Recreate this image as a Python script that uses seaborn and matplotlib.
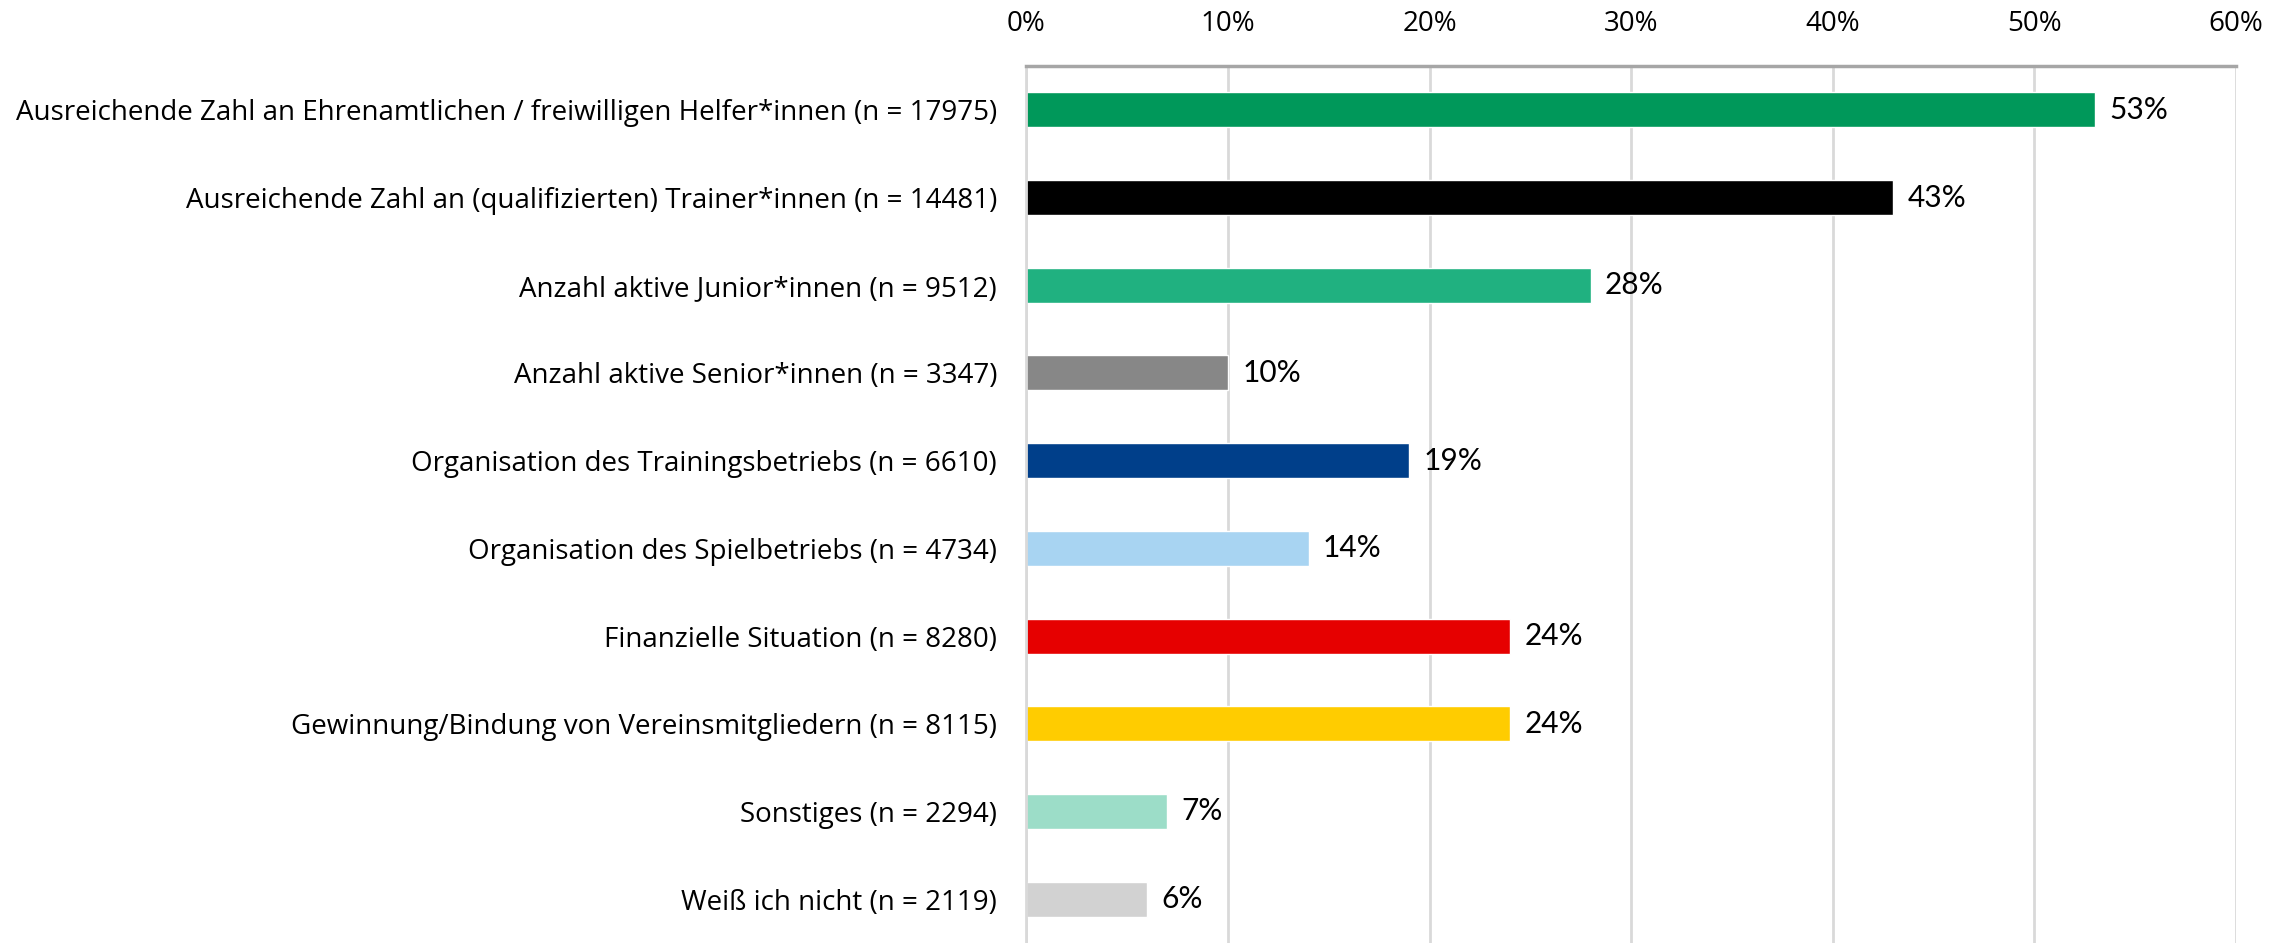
import pandas as pd
import seaborn as sns
import matplotlib.pyplot as plt
from matplotlib.ticker import PercentFormatter

# --- Data ---
categories = [
    "Ausreichende Zahl an Ehrenamtlichen / freiwilligen Helfer*innen (n = 17975)",
    "Ausreichende Zahl an (qualifizierten) Trainer*innen (n = 14481)",
    "Anzahl aktive Junior*innen (n = 9512)",
    "Anzahl aktive Senior*innen (n = 3347)",
    "Organisation des Trainingsbetriebs (n = 6610)",
    "Organisation des Spielbetriebs (n = 4734)",
    "Finanzielle Situation (n = 8280)",
    "Gewinnung/Bindung von Vereinsmitgliedern (n = 8115)",
    "Sonstiges (n = 2294)",
    "Weiß ich nicht (n = 2119)",
]
percent = [53, 43, 28, 10, 19, 14, 24, 24, 7, 6]
bar_colors = ["#00985A", "#000000", "#20B180", "#878787", "#003F8A",
              "#A8D4F2", "#E60000", "#FFCC00", "#9CDDC8", "#D2D2D2"]
x_ticks = [0, 10, 20, 30, 40, 50, 60]

df = pd.DataFrame({"category": categories, "percent": percent})

sns.set_style("white")
plt.rcParams['font.family'] = ['Open Sans', 'DejaVu Sans']

fig = plt.figure(figsize=(22.89, 9.43), dpi=100)
ax = fig.add_axes([0.4484, 0.0, 0.9768 - 0.4484, 0.930])

sns.barplot(data=df, y="category", x="percent", hue="category",
            palette=bar_colors, legend=False, width=0.4, orient="h",
            saturation=1, ax=ax)

# value labels at bar ends
for i, v in enumerate(percent):
    ax.text(v + 0.7, i, f"{v}%", va="center", ha="left", fontsize=21.5,
            color="black", family=["Lato", "DejaVu Sans"])

ax.set_xlim(0, 60)
ax.set_ylim(9.5, -0.5)
ax.set_xticks(x_ticks)
ax.xaxis.set_major_formatter(PercentFormatter(decimals=0))
ax.xaxis.tick_top()
ax.tick_params(axis="x", length=0, pad=20, labelsize=20, labelcolor="black")
ax.tick_params(axis="y", length=0, pad=21, labelsize=20, labelcolor="black")
ax.set_xlabel("")
ax.set_ylabel("")

ax.grid(True, axis="x", color="#D9D9D9", linewidth=2)
ax.set_axisbelow(True)
for side in ["right", "bottom"]:
    ax.spines[side].set_visible(False)
ax.spines["top"].set_color("#A6A6A6")
ax.spines["top"].set_linewidth(2.5)
ax.spines["left"].set_color("#D9D9D9")
ax.spines["left"].set_linewidth(2)

plt.savefig("out.png", dpi=100)
plt.close()
